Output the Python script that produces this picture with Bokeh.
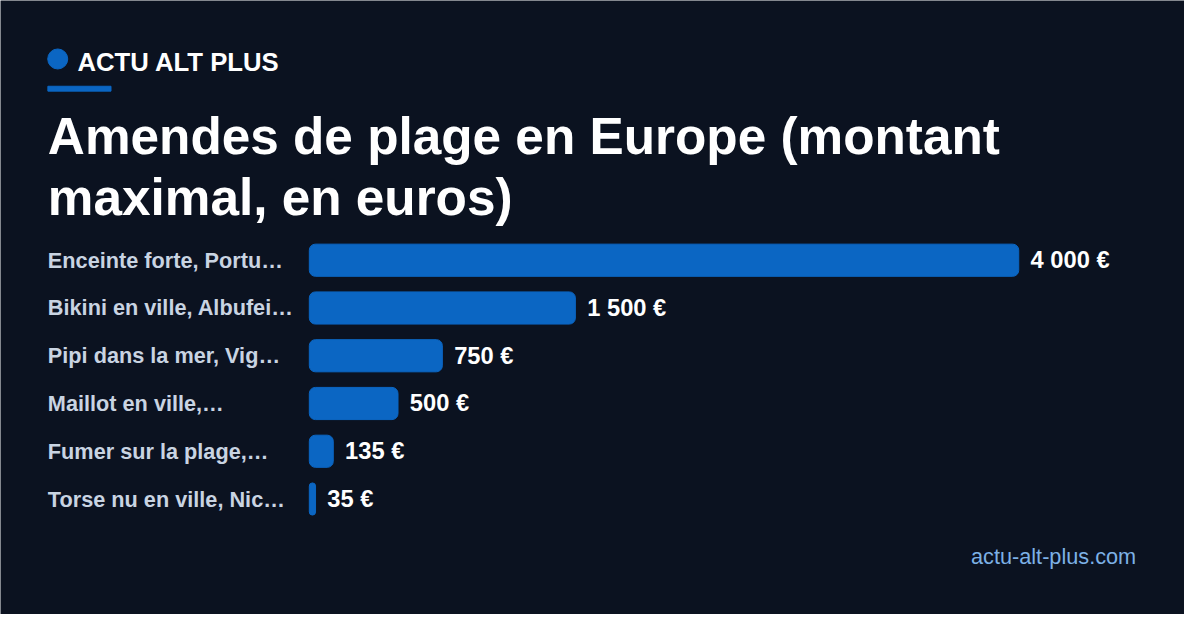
from bokeh.plotting import figure
from bokeh.models import Range1d
from bokeh.core.properties import value
from bokeh.embed import file_html
from bokeh.resources import INLINE

# data
categories = [
    "Enceinte forte, Portu…",
    "Bikini en ville, Albufei…",
    "Pipi dans la mer, Vig…",
    "Maillot en ville,…",
    "Fumer sur la plage,…",
    "Torse nu en ville, Nic…",
]
amounts = [4000, 1500, 750, 500, 135, 35]
amount_labels = ["4 000 €", "1 500 €", "750 €", "500 €", "135 €", "35 €"]

BG = "#0b1220"
BLUE = "#0b66c3"
FONT = value("Liberation Sans")

W, H = 1184, 614
KX, KY = W / 1200, H / 630      # layout was measured on a 1200x630 canvas
SX = (1032 - 313) * KX / 4000   # pixels per euro
ZERO_PX = 313 * KX
ROW = 49 * KY                   # pixels per row
FIRST_ROW_PX = 266.5 * KY

X0 = -ZERO_PX / SX
Y_TOP = -FIRST_ROW_PX / ROW


def fx(px):
    return X0 + px * KX / SX


def fy(py):
    return Y_TOP + py * KY / ROW


def fs(size):
    return f"{size * KX:.1f}px"


p = figure(width=W, height=H, output_backend="svg", toolbar_location=None,
           x_range=Range1d(X0, X0 + W / SX),
           y_range=Range1d(Y_TOP + H / ROW, Y_TOP),
           min_border=0, background_fill_color=BG, border_fill_color=BG,
           outline_line_color=None)
p.axis.visible = False
p.grid.visible = False

rows = list(range(len(categories)))

# bars
p.hbar(y=rows, left=0, right=amounts, height=33 / 49, color=BLUE,
       border_radius=6)

# category labels
p.text(x=[fx(48)] * len(rows), y=rows, text=categories, text_font=FONT,
       text_font_style="bold", text_font_size=fs(22), text_color="#c9d4e2",
       text_baseline="middle", text_align="left")

# value labels
p.text(x=[a + 12 * KX / SX for a in amounts], y=rows, text=amount_labels,
       text_font=FONT, text_font_style="bold", text_font_size=fs(24),
       text_color="white", text_baseline="middle", text_align="left")

# header
p.scatter(x=[fx(58)], y=[fy(60)], size=20, color=BLUE)
p.text(x=[fx(78)], y=[fy(63)], text=["ACTU ALT PLUS"], text_font=FONT,
       text_font_style="bold", text_font_size=fs(26), text_color="white",
       text_baseline="middle")
p.quad(left=[fx(48)], right=[fx(112)], top=[fy(88)], bottom=[fy(93)],
       color=BLUE)

# title
p.text(x=[fx(48), fx(48)], y=[fy(140), fy(202)],
       text=["Amendes de plage en Europe (montant", "maximal, en euros)"],
       text_font=FONT, text_font_style="bold", text_font_size=fs(52),
       text_color="white", text_baseline="middle")

# footer
p.text(x=[fx(1151)], y=[fy(570)], text=["actu-alt-plus.com"], text_font=FONT,
       text_font_size=fs(22), text_color="#7db1e6", text_baseline="middle",
       text_align="right")

open("out.html", "w").write(file_html(p, INLINE))
